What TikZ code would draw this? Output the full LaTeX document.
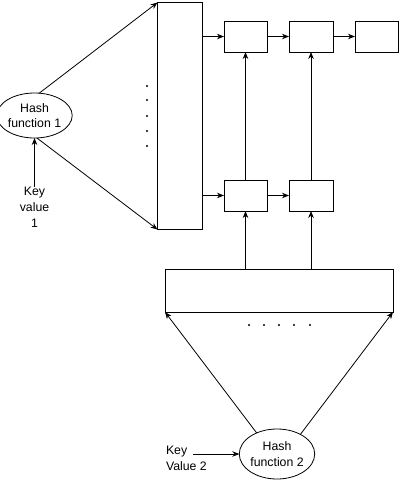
\documentclass[tikz,border=0pt]{standalone}
\usepackage{fontspec}
\setmainfont{Liberation Sans}
\usetikzlibrary{arrows.meta,shapes.geometric}
\begin{document}
\begin{tikzpicture}[x=1pt,y=-1pt,
  every node/.style={inner sep=0pt,outer sep=0pt},
  box/.style={draw,line width=0.8pt,minimum width=43pt,minimum height=31pt},
  oval/.style={draw,ellipse,line width=0.8pt,align=center,font=\fontsize{12.3}{15.5}\selectfont},
  lbl/.style={font=\fontsize{12.3}{16}\selectfont},
  arr/.style={line width=0.8pt,-{Stealth[length=7pt,width=5.5pt]}},
  dot/.style={fill=black}]
\useasboundingbox (0,0) rectangle (400,482);
% tables
\node[draw,line width=0.8pt,minimum width=45pt,minimum height=227pt] (t1) at (180,116) {};
\node[draw,line width=0.8pt,minimum width=228pt,minimum height=43pt] (t2) at (279,290.5) {};
% boxes
\node[box] (b1) at (245.5,36.5) {};
\node[box,minimum width=44pt] (b2) at (311,36.5) {};
\node[box] (b3) at (376.5,36.5) {};
\node[box] (b4) at (245.5,195.5) {};
\node[box,minimum width=44pt] (b5) at (311,195.5) {};
% hash functions
\node[oval,minimum width=65pt,minimum height=45pt] (h1) at (34.5,115.5) {Hash\\function 1};
\node[oval,minimum width=72pt,minimum height=50pt] (h2) at (277,454) {Hash\\function 2};
% keys
\node[lbl,align=center,anchor=north] (k1) at (34.5,187) {Key\\value\\1};
\node[lbl,align=left,anchor=west] (k2) at (166,458) {Key\\Value 2};
\coordinate (ka) at (193,454);
% arrows hash1
\draw[arr] (h1.78) -- (t1.north west);
\draw[arr] (h1.-84) -- (t1.south west);
\draw[arr] (k1.north) -- (h1.south);
% arrows hash2
\draw[arr] (h2.134) -- (t2.south west);
\draw[arr] (h2.40) -- (t2.south east);
\draw[arr] (ka) -- (h2.west);
% chains
\draw[arr] (t1.east |- b1.west) -- (b1.west);
\draw[arr] (b1) -- (b2);
\draw[arr] (b2) -- (b3);
\draw[arr] (t1.east |- b4.west) -- (b4.west);
\draw[arr] (b4) -- (b5);
\draw[arr] (b4) -- (b1);
\draw[arr] (b5) -- (b2);
\draw[arr] (t2.north -| b4.south) -- (b4.south);
\draw[arr] (t2.north -| b5.south) -- (b5.south);
% dots
\foreach \y in {86,100,116,131,146} \fill[dot] (147,\y) circle (1.1pt);
\foreach \x in {249,264,279,294,310} \fill[dot] (\x,325) circle (1.1pt);
\end{tikzpicture}
\end{document}
